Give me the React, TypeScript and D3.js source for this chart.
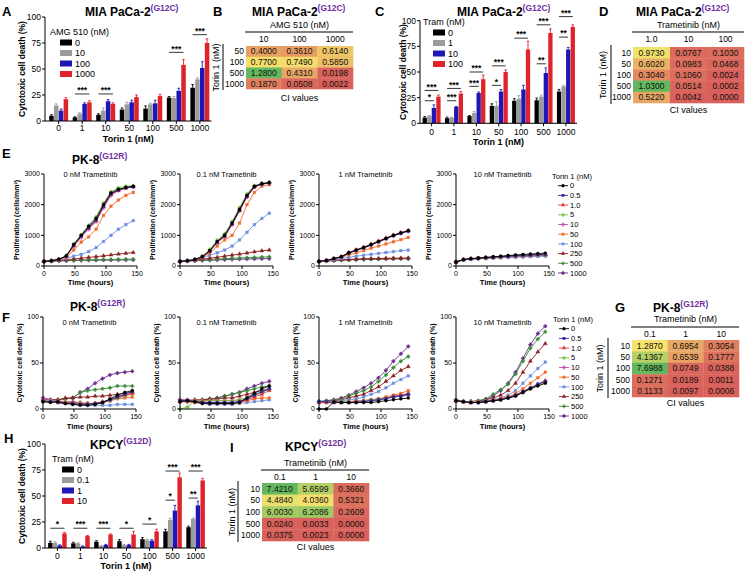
import React from "react";
import * as d3 from "d3";

const FONT = "'Liberation Sans', Arial, Helvetica, sans-serif";
const SUP = "#7030a0";

// ---------------- bar panels (A, C, H) ----------------
const torinCats = ["0", "1", "10", "50", "100", "500", "1000"];
const barColors = ["#000000", "#9b9b9b", "#1c17b5", "#e0232b"];

const amgLevels = ["0", "10", "100", "1000"];
const aMeans = [
  [5, 3.5, 6, 11, 12, 22.5, 32],
  [15, 7, 10, 16, 16, 22, 40],
  [10, 16.5, 19, 18, 17, 29, 51],
  [21, 18, 16.5, 23, 24, 54, 75],
];
const aErrs = [
  [1, 0.5, 1, 1.5, 2.5, 1, 3],
  [1.5, 1, 2.5, 2, 1, 1.5, 1.5],
  [1.5, 1, 1.5, 2, 3, 2.5, 6],
  [1.5, 1.5, 1, 2, 1.5, 5, 4],
];
const aSig = [
  { cat: "1", label: "***", level: 26, to: 3 },
  { cat: "10", label: "***", level: 26, to: 3 },
  { cat: "500", label: "***", level: 66, to: 3 },
  { cat: "1000", label: "***", level: 83, to: 3 },
];

const tramLevelsC = ["0", "1", "10", "100"];
const cMeans = [
  [5.5, 5, 7, 17, 22, 22.5, 31],
  [7, 5.5, 10, 17, 24, 26, 36],
  [15, 16, 29.5, 31, 33, 49, 72],
  [26, 29, 43, 50, 72, 88, 94],
];
const cErrs = [
  [1, 1, 0.5, 2, 2, 2, 2],
  [0.5, 0.5, 1.5, 4, 3, 1.5, 1],
  [3, 0.5, 1, 2, 4, 5, 2],
  [1.5, 2, 4, 2, 8, 4, 2],
];
const cSig = [
  { cat: "0", label: "*", level: 22, to: 2 },
  { cat: "0", label: "***", level: 32, to: 3 },
  { cat: "1", label: "***", level: 22, to: 2 },
  { cat: "1", label: "***", level: 34, to: 3 },
  { cat: "10", label: "***", level: 36, to: 2 },
  { cat: "10", label: "***", level: 50, to: 3 },
  { cat: "50", label: "*", level: 37, to: 2 },
  { cat: "50", label: "***", level: 56, to: 3 },
  { cat: "100", label: "***", level: 83, to: 3 },
  { cat: "500", label: "**", level: 58, to: 2 },
  { cat: "500", label: "***", level: 96, to: 3 },
  { cat: "1000", label: "**", level: 84, to: 2 },
  { cat: "1000", label: "***", level: 104, to: 3 },
];

const tramLevelsH = ["0", "0.1", "1", "10"];
const hMeans = [
  [5, 4.5, 6, 6.5, 8.5, 16, 20],
  [5, 4.5, 2, 3, 7.5, 27, 28],
  [2.5, 1.5, 3, 3, 7, 36, 41],
  [14, 11.5, 13, 13, 16, 68, 65],
];
const hErrs = [
  [1.5, 1, 1, 1.5, 1.5, 2, 1],
  [1, 0.5, 0.5, 0.5, 1, 1.5, 1],
  [0.5, 0.5, 0.5, 0.5, 1, 5, 4],
  [1, 0.5, 0.5, 3, 2, 4, 2],
];
const hSig = [
  { cat: "0", label: "*", level: 19, to: 3 },
  { cat: "1", label: "***", level: 19, to: 3 },
  { cat: "10", label: "***", level: 19, to: 3 },
  { cat: "50", label: "*", level: 19, to: 3 },
  { cat: "100", label: "*", level: 23, to: 3 },
  { cat: "500", label: "*", level: 46, to: 2 },
  { cat: "500", label: "***", level: 74, to: 3 },
  { cat: "1000", label: "**", level: 48, to: 2 },
  { cat: "1000", label: "***", level: 74, to: 3 },
];

// ---------------- heatmaps (B, D, G, I) ----------------
const bCols = ["10", "100", "1000"];
const bRows = ["50", "100", "500", "1000"];
const bCI = [
  [0.4, 0.361, 0.614],
  [0.77, 0.749, 0.585],
  [1.28, 0.431, 0.0198],
  [0.187, 0.0508, 0.0022],
];
const dCols = ["1.0", "10", "100"];
const dRows = ["10", "50", "100", "500", "1000"];
const dCI = [
  [0.973, 0.0767, 0.103],
  [0.602, 0.0983, 0.0468],
  [0.304, 0.106, 0.0024],
  [1.03, 0.0514, 0.0002],
  [0.522, 0.0042, 0.0],
];
const gCols = ["0.1", "1", "10"];
const gRows = ["10", "50", "100", "500", "1000"];
const gCI = [
  [1.287, 0.6954, 0.3054],
  [4.1367, 0.6539, 0.1777],
  [7.6988, 0.0749, 0.0388],
  [0.1271, 0.0189, 0.0011],
  [0.1133, 0.0097, 0.0006],
];
const iCols = ["0.1", "1", "10"];
const iRows = ["10", "50", "100", "500", "1000"];
const iCI = [
  [7.421, 5.6599, 0.366],
  [4.484, 4.036, 0.5321],
  [6.003, 6.2086, 0.2609],
  [0.024, 0.0033, 0.0],
  [0.0375, 0.0023, 0.0],
];

// ---------------- time courses (E, F) ----------------
const hours = [0, 12, 24, 36, 48, 60, 72, 84, 96, 108, 120, 132, 144];
const torinDoses = ["0", "0.5", "1.0", "5", "10", "50", "100", "250", "500", "1000"];
const torinColors = ["#000000", "#2a2ea0", "#e23a3a", "#7ac143", "#c74db4", "#f26a2a", "#6d8fe0", "#8b1f1f", "#3a8a3a", "#6a2a8a"];
const tramTitles = ["0 nM Trametinib", "0.1 nM Trametinib", "1 nM Trametinib", "10 nM Trametinib"];

const prolifTram0 = [
  [150, 170, 220, 330, 700, 1000, 1300, 1550, 2000, 2380, 2500, 2560, 2600],
  [150, 170, 220, 320, 680, 980, 1250, 1500, 1950, 2350, 2480, 2550, 2580],
  [150, 170, 215, 320, 660, 960, 1230, 1480, 1930, 2330, 2470, 2540, 2590],
  [150, 175, 225, 340, 720, 1020, 1320, 1600, 2050, 2420, 2550, 2600, 2620],
  [150, 170, 215, 310, 640, 930, 1200, 1450, 1900, 2300, 2460, 2540, 2590],
  [150, 165, 200, 280, 520, 780, 950, 1200, 1650, 1950, 2150, 2300, 2400],
  [150, 170, 200, 250, 320, 380, 470, 600, 800, 1000, 1200, 1350, 1480],
  [150, 165, 185, 205, 230, 255, 280, 305, 330, 360, 390, 415, 440],
  [150, 160, 170, 180, 190, 195, 200, 205, 210, 212, 215, 218, 220],
  [150, 158, 165, 172, 178, 182, 186, 190, 193, 196, 198, 200, 202],
];
const prolifTram01 = [
  [150, 170, 210, 300, 500, 800, 1000, 1400, 1850, 2300, 2600, 2680, 2720],
  [150, 170, 210, 300, 490, 780, 980, 1380, 1820, 2280, 2580, 2670, 2710],
  [150, 170, 210, 295, 480, 770, 970, 1360, 1800, 2260, 2580, 2680, 2720],
  [150, 175, 220, 320, 540, 840, 1050, 1450, 1900, 2350, 2620, 2700, 2730],
  [150, 170, 205, 295, 480, 760, 960, 1350, 1800, 2250, 2570, 2670, 2700],
  [150, 165, 200, 270, 420, 650, 850, 1000, 1400, 2000, 2400, 2600, 2650],
  [150, 170, 200, 270, 350, 430, 520, 650, 850, 1100, 1350, 1550, 1720],
  [150, 170, 195, 225, 255, 285, 320, 355, 390, 425, 460, 495, 520],
  [150, 165, 180, 195, 210, 225, 240, 250, 260, 270, 280, 290, 300],
  [150, 160, 170, 180, 190, 200, 208, 215, 222, 228, 233, 237, 240],
];
const prolifTram1 = [
  [150, 180, 240, 300, 430, 520, 600, 700, 800, 900, 1000, 1080, 1150],
  [150, 180, 240, 300, 420, 510, 590, 690, 790, 890, 990, 1070, 1140],
  [150, 185, 245, 310, 440, 530, 615, 715, 815, 915, 1010, 1090, 1160],
  [150, 180, 240, 300, 425, 515, 595, 695, 795, 895, 995, 1075, 1145],
  [150, 180, 235, 295, 420, 505, 585, 685, 785, 880, 980, 1060, 1130],
  [150, 175, 225, 280, 360, 430, 500, 580, 650, 720, 790, 860, 930],
  [150, 170, 200, 240, 280, 320, 350, 380, 410, 440, 470, 500, 520],
  [150, 165, 185, 200, 215, 225, 235, 240, 245, 250, 255, 258, 260],
  [150, 165, 180, 195, 205, 215, 222, 228, 233, 238, 242, 245, 248],
  [150, 165, 180, 190, 200, 208, 215, 220, 225, 230, 233, 236, 240],
];
const prolifTram10 = [
  [130, 210, 240, 260, 280, 300, 320, 340, 360, 375, 390, 405, 420],
  [130, 205, 235, 255, 275, 290, 305, 320, 335, 350, 360, 370, 380],
  [130, 210, 235, 255, 272, 288, 302, 316, 330, 344, 356, 366, 375],
  [130, 205, 232, 252, 268, 284, 298, 312, 325, 338, 350, 360, 370],
  [130, 205, 232, 250, 266, 280, 294, 308, 320, 332, 344, 354, 362],
  [130, 210, 235, 252, 268, 282, 296, 310, 322, 334, 345, 355, 365],
  [130, 200, 225, 240, 252, 262, 272, 280, 288, 296, 304, 312, 320],
  [130, 205, 230, 248, 262, 276, 290, 302, 314, 326, 336, 346, 355],
  [130, 205, 230, 246, 260, 274, 286, 298, 310, 320, 330, 340, 350],
  [130, 205, 228, 244, 258, 270, 282, 294, 305, 315, 325, 335, 345],
];

const deathTram0 = [
  [8, 7, 8, 6, 5, 4, 4, 5, 7, 11, 15, 18, 20],
  [8, 8, 7, 6, 6, 5, 5, 6, 7, 10, 13, 16, 19],
  [9, 8, 8, 7, 7, 6, 6, 6, 8, 10, 13, 15, 17],
  [9, 9, 8, 8, 7, 7, 6, 6, 7, 9, 12, 14, 16],
  [12, 10, 9, 8, 8, 7, 6, 6, 7, 9, 12, 14, 18],
  [9, 8, 7, 6, 6, 6, 6, 6, 7, 9, 11, 12, 13],
  [10, 9, 8, 7, 6, 5, 4, 4, 4, 4, 5, 5, 5],
  [10, 10, 10, 12, 12, 13, 13, 14, 14, 15, 16, 17, 18],
  [10, 10, 10, 11, 12, 18, 20, 21, 22, 23, 25, 25, 25],
  [12, 10, 10, 11, 12, 18, 22, 28, 33, 37, 39, 40, 41],
];
const deathTram01 = [
  [8, 9, 8, 6, 6, 6, 6, 6, 7, 12, 17, 22, 25],
  [9, 9, 8, 7, 7, 7, 7, 7, 8, 11, 15, 19, 22],
  [9, 9, 8, 8, 7, 7, 7, 7, 8, 10, 13, 16, 20],
  [0, 2, 9, 9, 9, 9, 9, 9, 10, 12, 15, 18, 21],
  [10, 10, 9, 9, 9, 9, 9, 9, 10, 12, 15, 18, 22],
  [8, 8, 7, 6, 6, 6, 6, 6, 7, 9, 11, 12, 12],
  [9, 8, 7, 6, 5, 5, 5, 5, 6, 7, 8, 9, 10],
  [8, 9, 10, 10, 11, 11, 12, 12, 14, 16, 18, 20, 22],
  [10, 10, 9, 10, 11, 12, 14, 16, 18, 20, 22, 24, 25],
  [8, 8, 8, 9, 10, 12, 14, 16, 18, 22, 25, 28, 30],
];
const deathTram1 = [
  [0, 0, 8, 7, 7, 7, 7, 7, 8, 9, 10, 11, 12],
  [8, 8, 7, 7, 7, 7, 8, 9, 10, 11, 13, 14, 16],
  [7, 7, 7, 7, 7, 8, 8, 9, 10, 12, 14, 15, 17],
  [8, 8, 8, 8, 8, 8, 9, 10, 11, 12, 14, 15, 16],
  [8, 8, 8, 8, 8, 9, 9, 10, 11, 12, 13, 14, 15],
  [7, 7, 7, 7, 8, 8, 9, 10, 11, 13, 15, 17, 20],
  [8, 8, 8, 9, 10, 11, 13, 16, 19, 23, 28, 32, 36],
  [8, 8, 9, 10, 12, 14, 16, 20, 24, 30, 36, 42, 46],
  [8, 9, 10, 11, 14, 17, 20, 24, 30, 37, 45, 52, 57],
  [8, 9, 10, 12, 15, 19, 23, 28, 34, 42, 52, 60, 68],
];
const deathTram10 = [
  [9, 8, 7, 7, 8, 9, 10, 12, 14, 18, 22, 25, 28],
  [9, 8, 7, 7, 8, 9, 10, 12, 15, 19, 23, 27, 30],
  [9, 8, 7, 8, 8, 9, 11, 13, 15, 19, 23, 27, 31],
  [10, 8, 8, 8, 8, 9, 10, 12, 15, 18, 22, 26, 29],
  [9, 8, 8, 7, 8, 9, 10, 12, 14, 18, 22, 26, 30],
  [9, 8, 7, 8, 8, 9, 11, 13, 17, 22, 28, 34, 40],
  [9, 8, 8, 8, 9, 10, 12, 15, 20, 28, 36, 44, 51],
  [9, 8, 8, 8, 10, 12, 15, 20, 28, 40, 52, 62, 71],
  [10, 8, 8, 9, 11, 16, 21, 27, 38, 52, 66, 76, 84],
  [10, 8, 8, 9, 10, 14, 20, 28, 40, 55, 70, 82, 90],
];

const prolifSets = [prolifTram0, prolifTram01, prolifTram1, prolifTram10];
const deathSets = [deathTram0, deathTram01, deathTram1, deathTram10];
const prolifTicks = [0, 1000, 2000, 3000];
const deathTicks = [0, 50, 100];
const timeTicks = [0, 50, 100, 150];
const barTicks = [0, 25, 50, 75, 100];

const HM_RED = "#d9605b";
const HM_YELLOW = "#f5e46c";
const HM_GREEN = "#63b75e";

const symbolTypes = [
  d3.symbolCircle, d3.symbolSquare, d3.symbolTriangle, d3.symbolCross, d3.symbolCross,
  d3.symbolSquare, d3.symbolSquare, d3.symbolTriangle, d3.symbolCross, d3.symbolCross,
];

function Label({ x, y, t }: any) {
  return (
    <text x={x} y={y} fontFamily={FONT} fontWeight="bold" fontSize={13}>
      {t}
    </text>
  );
}

function Title({ x, y, main, sup }: any) {
  return (
    <text x={x} y={y} fontFamily={FONT} fontWeight="bold" fontSize={12}>
      {main}
      <tspan fontSize={8.5} dy={-5} fill={SUP}>
        {sup}
      </tspan>
    </text>
  );
}

function BarChart(p: any) {
  const { axisX, bandStart, bandEnd, top, bottom, means, errs, sigs, levels, legendTitle, legendX, legendY, tickBase, titleBase, ylabelX } = p;
  const y = d3.scaleLinear().domain([0, 100]).range([bottom, top]);
  const x0 = d3.scaleBand<string>().domain(torinCats).range([bandStart, bandEnd]).paddingInner(0.17).paddingOuter(0.08);
  const x1 = d3.scaleBand<number>().domain(d3.range(means.length)).range([0, x0.bandwidth()]).padding(0.06);
  const bw = x1.bandwidth();
  return (
    <g fontFamily={FONT}>
      {means.map((ser: number[], s: number) =>
        ser.map((m, i) => {
          const bx = (x0(torinCats[i]) as number) + (x1(s) as number);
          const cx = bx + bw / 2;
          const e = errs[s][i];
          return (
            <g key={`${s}-${i}`}>
              <line x1={cx} x2={cx} y1={y(m)} y2={y(m + e)} stroke={barColors[s]} strokeWidth={0.9} />
              <line x1={cx - 1.3} x2={cx + 1.3} y1={y(m + e)} y2={y(m + e)} stroke={barColors[s]} strokeWidth={0.9} />
              <rect x={bx} y={y(m)} width={bw} height={bottom - y(m)} fill={barColors[s]} />
            </g>
          );
        })
      )}
      {sigs.map((sg: any, k: number) => {
        const g0 = x0(sg.cat) as number;
        const xa = g0 + (x1(0) as number) + bw / 2;
        const xb = g0 + (x1(sg.to) as number) + bw / 2;
        return (
          <g key={k}>
            <line x1={xa} x2={xb} y1={y(sg.level)} y2={y(sg.level)} stroke="#000" strokeWidth={0.8} />
            <text x={(xa + xb) / 2} y={y(sg.level) - 0.8} textAnchor="middle" fontSize={8.5} fontWeight="bold">
              {sg.label}
            </text>
          </g>
        );
      })}
      <line x1={axisX} x2={axisX} y1={top} y2={bottom} stroke="#000" strokeWidth={1} />
      <line x1={axisX} x2={bandEnd} y1={bottom} y2={bottom} stroke="#000" strokeWidth={1} />
      {barTicks.map((t) => (
        <g key={t}>
          <line x1={axisX - 3} x2={axisX} y1={y(t)} y2={y(t)} stroke="#000" />
          <text x={axisX - 4} y={y(t)} dy="0.34em" textAnchor="end" fontSize={8.5}>
            {t}
          </text>
        </g>
      ))}
      {torinCats.map((c) => {
        const cx = (x0(c) as number) + x0.bandwidth() / 2;
        return (
          <g key={c}>
            <line x1={cx} x2={cx} y1={bottom} y2={bottom + 3} stroke="#000" />
            <text x={cx} y={tickBase} textAnchor="middle" fontSize={8.5}>
              {c}
            </text>
          </g>
        );
      })}
      <text x={(axisX + bandEnd) / 2} y={titleBase} textAnchor="middle" fontSize={9} fontWeight="bold">
        Torin 1 (nM)
      </text>
      <text transform={`translate(${ylabelX},${(top + bottom) / 2}) rotate(-90)`} textAnchor="middle" dy="0.35em" fontSize={8.5} fontWeight="bold">
        Cytotoxic cell death (%)
      </text>
      <text x={legendX} y={legendY} dy="0.35em" fontSize={9}>
        {legendTitle}
      </text>
      {levels.map((l: string, k: number) => {
        const cy = legendY + 10.5 * (k + 1);
        return (
          <g key={l}>
            <rect x={legendX + 10} y={cy - 3} width={12} height={6} fill={barColors[k]} />
            <text x={legendX + 25} y={cy} dy="0.35em" fontSize={9}>
              {l}
            </text>
          </g>
        );
      })}
    </g>
  );
}

function Heatmap(p: any) {
  const { cols, rows, values, mid, colTitle, tableX, tableW, tableY, rowH, titleY, lineY, headY, vLineX, torinX, ciY } = p;
  const flat: number[] = values.flat();
  const color = d3
    .scaleLinear<string>()
    .domain([d3.min(flat) as number, mid, d3.max(flat) as number])
    .range([HM_RED, HM_YELLOW, HM_GREEN])
    .interpolate(d3.interpolateRgb);
  const xb = d3.scaleBand<string>().domain(cols).range([tableX, tableX + tableW]);
  const yb = d3.scaleBand<string>().domain(rows).range([tableY, tableY + rowH * rows.length]);
  const fmt = d3.format(".4f");
  const tableBottom = tableY + rowH * rows.length;
  return (
    <g fontFamily={FONT}>
      <text x={tableX + tableW / 2} y={titleY} dy="0.35em" textAnchor="middle" fontSize={9}>
        {colTitle}
      </text>
      <line x1={tableX - 1} x2={tableX + tableW} y1={lineY} y2={lineY} stroke="#000" strokeWidth={1} />
      {cols.map((c: string) => (
        <text key={c} x={(xb(c) as number) + xb.bandwidth() / 2} y={headY} dy="0.35em" textAnchor="middle" fontSize={8.5}>
          {c}
        </text>
      ))}
      {rows.map((r: string, ri: number) => (
        <g key={r}>
          <text x={tableX - 2} y={(yb(r) as number) + rowH / 2} dy="0.35em" textAnchor="end" fontSize={8.5}>
            {r}
          </text>
          {cols.map((c: string, ci: number) => (
            <g key={c}>
              <rect x={xb(c)} y={yb(r)} width={xb.bandwidth() + 0.3} height={rowH + 0.3} fill={color(values[ri][ci])} />
              <text x={(xb(c) as number) + xb.bandwidth() / 2} y={(yb(r) as number) + rowH / 2} dy="0.35em" textAnchor="middle" fontSize={8.5} fill="#111">
                {fmt(values[ri][ci])}
              </text>
            </g>
          ))}
        </g>
      ))}
      <line x1={vLineX} x2={vLineX} y1={tableY - 2} y2={tableBottom + 1} stroke="#000" strokeWidth={1} />
      <text transform={`translate(${torinX},${(tableY + tableBottom) / 2}) rotate(-90)`} textAnchor="middle" dy="0.35em" fontSize={9}>
        Torin 1 (nM)
      </text>
      <text x={tableX + tableW / 2} y={ciY} dy="0.35em" textAnchor="middle" fontSize={9}>
        CI values
      </text>
    </g>
  );
}

function LineChart(p: any) {
  const { left, top, bottom, width, yMax, yTicks, data, subtitle, subY, ylabel, ylabelOff, xTitleY } = p;
  const x = d3.scaleLinear().domain([0, 150]).range([left, left + width]);
  const y = d3.scaleLinear().domain([0, yMax]).range([bottom, top]);
  const line = d3
    .line<number>()
    .x((_, i) => x(hours[i]))
    .y((d) => y(d));
  const order = d3.range(data.length).reverse();
  return (
    <g fontFamily={FONT}>
      {order.map((k) => {
        const sym = d3.symbol().type(symbolTypes[k]).size(7)() as string;
        return (
          <g key={k}>
            <path d={line(data[k]) as string} fill="none" stroke={torinColors[k]} strokeWidth={0.9} />
            {data[k].map((v: number, i: number) => (
              <path key={i} transform={`translate(${x(hours[i])},${y(v)})`} d={sym} fill={torinColors[k]} stroke={torinColors[k]} strokeWidth={0.4} />
            ))}
          </g>
        );
      })}
      <line x1={left} x2={left} y1={top} y2={bottom} stroke="#000" strokeWidth={1} />
      <line x1={left} x2={left + width} y1={bottom} y2={bottom} stroke="#000" strokeWidth={1} />
      {yTicks.map((t: number) => (
        <g key={t}>
          <line x1={left - 3} x2={left} y1={y(t)} y2={y(t)} stroke="#000" />
          <text x={left - 4} y={y(t)} dy="0.34em" textAnchor="end" fontSize={7}>
            {t}
          </text>
        </g>
      ))}
      {timeTicks.map((t) => (
        <g key={t}>
          <line x1={x(t)} x2={x(t)} y1={bottom} y2={bottom + 3} stroke="#000" />
          <text x={x(t)} y={bottom + 10} textAnchor="middle" fontSize={7}>
            {t}
          </text>
        </g>
      ))}
      <text x={left + width / 2} y={subY} textAnchor="middle" fontSize={7.5}>
        {subtitle}
      </text>
      <text x={left + width / 2} y={xTitleY} textAnchor="middle" fontSize={7.5} fontWeight="bold">
        Time (hours)
      </text>
      <text transform={`translate(${left - ylabelOff},${(top + bottom) / 2}) rotate(-90)`} textAnchor="middle" dy="0.35em" fontSize={7} fontWeight="bold">
        {ylabel}
      </text>
    </g>
  );
}

function TorinLegend({ x, y }: any) {
  return (
    <g fontFamily={FONT}>
      <text x={x} y={y} dy="0.35em" fontSize={7.5}>
        Torin 1 (nM)
      </text>
      {torinDoses.map((d, k) => {
        const cy = y + 9.7 * (k + 1);
        const sym = d3.symbol().type(symbolTypes[k]).size(8)() as string;
        return (
          <g key={d}>
            <line x1={x + 6} x2={x + 16} y1={cy} y2={cy} stroke={torinColors[k]} strokeWidth={0.9} />
            <path transform={`translate(${x + 11},${cy})`} d={sym} fill={torinColors[k]} />
            <text x={x + 18} y={cy} dy="0.35em" fontSize={7.5}>
              {d}
            </text>
          </g>
        );
      })}
    </g>
  );
}

const eLefts = [44, 180, 319, 456];
const fLefts = [43, 180, 319, 456];

export default function App() {
  return (
    <svg width={747} height={574} style={{ position: "absolute", left: 0, top: 0, background: "#fff" }}>
      {/* A */}
      <Label x={2} y={16} t="A" />
      <Title x={85} y={16} main="MIA PaCa-2" sup="(G12C)" />
      <BarChart axisX={45} bandStart={47} bandEnd={211.5} top={17} bottom={121} means={aMeans} errs={aErrs} sigs={aSig} levels={amgLevels} legendTitle="AMG 510 (nM)" legendX={50} legendY={32} tickBase={131} titleBase={142} ylabelX={22} />

      {/* B */}
      <Label x={213} y={16} t="B" />
      <Title x={252} y={16} main="MIA PaCa-2" sup="(G12C)" />
      <Heatmap cols={bCols} rows={bRows} values={bCI} mid={0.8} colTitle="AMG 510 (nM)" tableX={246} tableW={107} tableY={46} rowH={10.75} titleY={25} lineY={32} headY={39} vLineX={223} torinX={216} ciY={98} />

      {/* C */}
      <Label x={375} y={16} t="C" />
      <Title x={457} y={16} main="MIA PaCa-2" sup="(G12C)" />
      <BarChart axisX={420} bandStart={420.5} bandEnd={577} top={20.7} bottom={123.3} means={cMeans} errs={cErrs} sigs={cSig} levels={tramLevelsC} legendTitle="Tram (nM)" legendX={423} legendY={22} tickBase={135} titleBase={145} ylabelX={403} />

      {/* D */}
      <Label x={599} y={16} t="D" />
      <Title x={636} y={16} main="MIA PaCa-2" sup="(G12C)" />
      <Heatmap cols={dCols} rows={dRows} values={dCI} mid={0.97} colTitle="Trametinib (nM)" tableX={633} tableW={111} tableY={47} rowH={11.2} titleY={25} lineY={32} headY={39} vLineX={611} torinX={603} ciY={110} />

      {/* E */}
      <Label x={2} y={158} t="E" />
      <Title x={72} y={164} main="PK-8" sup="(G12R)" />
      {prolifSets.map((data, k) => (
        <LineChart key={k} left={eLefts[k]} top={174} bottom={266} width={93} yMax={3000} yTicks={prolifTicks} data={data} subtitle={tramTitles[k]} subY={177} ylabel="Proliferation (cells/mm²)" ylabelOff={27} xTitleY={285} />
      ))}
      <TorinLegend x={552} y={176} />

      {/* F */}
      <Label x={2} y={322} t="F" />
      <Title x={70} y={311} main="PK-8" sup="(G12R)" />
      {deathSets.map((data, k) => (
        <LineChart key={k} left={fLefts[k]} top={317} bottom={409} width={93} yMax={100} yTicks={deathTicks} data={data} subtitle={tramTitles[k]} subY={325} ylabel="Cytotoxic cell death (%)" ylabelOff={23} xTitleY={429} />
      ))}
      <TorinLegend x={553} y={319} />

      {/* G */}
      <Label x={615} y={312} t="G" />
      <Title x={653} y={312} main="PK-8" sup="(G12R)" />
      <Heatmap cols={gCols} rows={gRows} values={gCI} mid={1.3} colTitle="Trametinib (nM)" tableX={632} tableW={107} tableY={340} rowH={11.4} titleY={319} lineY={327} headY={334} vLineX={608} torinX={600} ciY={403} />

      {/* H */}
      <Label x={4} y={443} t="H" />
      <Title x={90} y={449} main="KPCY" sup="(G12D)" />
      <BarChart axisX={45} bandStart={46} bandEnd={207} top={444} bottom={548} means={hMeans} errs={hErrs} sigs={hSig} levels={tramLevelsH} legendTitle="Tram (nM)" legendX={52} legendY={459} tickBase={559} titleBase={569} ylabelX={22} />

      {/* I */}
      <Label x={230} y={452} t="I" />
      <Title x={285} y={451} main="KPCY" sup="(G12D)" />
      <Heatmap cols={iCols} rows={iRows} values={iCI} mid={4.2} colTitle="Trametinib (nM)" tableX={262} tableW={107} tableY={483} rowH={11.6} titleY={463} lineY={470} headY={477} vLineX={238} torinX={232} ciY={547} />
    </svg>
  );
}
